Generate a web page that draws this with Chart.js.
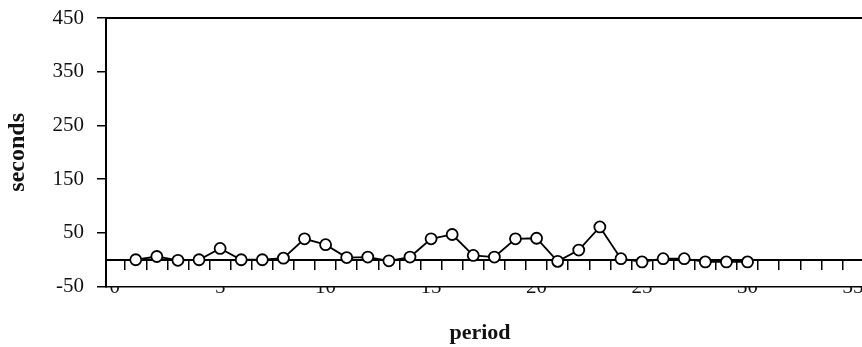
<!DOCTYPE html>
<html><head><meta charset="utf-8">
<script src="https://cdn.jsdelivr.net/npm/chart.js@4.4.0/dist/chart.umd.min.js"></script>
<style>
html,body{margin:0;padding:0;background:#fff;overflow:hidden;width:862px;height:347px;}
#wrap{position:relative;width:920px;height:347px;}
canvas{display:block;}
</style></head><body>
<div id="wrap"><canvas id="c" width="920" height="347"></canvas></div>
<script>
const periods = [1,2,3,4,5,6,7,8,9,10,11,12,13,14,15,16,17,18,19,20,21,22,23,24,25,26,27,28,29,30];
const seconds = [0,6,-1,0,21,0,0,3,39,28,4,5,-2,5,39,47,8,5,39,40,-3,18,61,2,-4,2,2,-4,-4,-4];
const yTicks = [-50,50,150,250,350,450];
const xLabelTicks = [0,5,10,15,20,25,30,35];
const xMinorTicks = [0.5,1.5,2.5,3.5,4.5,5.5,6.5,7.5,8.5,9.5,10.5,11.5,12.5,13.5,14.5,15.5,16.5,17.5,18.5,19.5,20.5,21.5,22.5,23.5,24.5,25.5,26.5,27.5,28.5,29.5,30.5,31.5,32.5,33.5,34.5,35.5,36.5,37.5];
const xTitle = 'period';
const yTitle = 'seconds';

const X_MIN = -0.41, X_MAX = 37.83;
const SERIF = "'Liberation Serif', 'DejaVu Serif', serif";
Chart.defaults.font.family = SERIF;

const setTicks = arr => s => { s.ticks = arr.map(v => ({value: v})); };

new Chart(document.getElementById('c'), {
  type: 'line',
  data: {
    datasets: [{
      data: periods.map((p, i) => ({x: p, y: seconds[i]})),
      borderColor: '#000',
      borderWidth: 1.8,
      pointRadius: 5.5,
      pointBorderWidth: 1.8,
      pointBackgroundColor: '#fff',
      pointBorderColor: '#000',
      tension: 0,
      fill: false,
      xAxisID: 'x',
      yAxisID: 'y',
      clip: false
    }]
  },
  options: {
    responsive: false,
    animation: false,
    devicePixelRatio: 1,
    layout: {padding: {left: 40, top: 18, right: 0, bottom: 0}},
    plugins: {
      legend: {display: false},
      tooltip: {enabled: false},
      title: {
        display: true, position: 'bottom', text: xTitle, color: '#111',
        font: {family: SERIF, size: 22, weight: 'bold'},
        padding: {top: 14, bottom: 0}
      }
    },
    scales: {
      x: {
        type: 'linear', axis: 'x', position: 'bottom', min: X_MIN, max: X_MAX,
        afterBuildTicks: setTicks(xLabelTicks),
        afterFit: s => { s.height = 20; },
        ticks: {font: {family: SERIF, size: 21}, color: '#111', padding: -12, maxRotation: 0, autoSkip: false},
        grid: {drawOnChartArea: false, drawTicks: false},
        border: {display: true, color: '#000', width: 1.5}
      },
      xZero: {
        type: 'linear', axis: 'x', position: {y: 0}, min: X_MIN, max: X_MAX,
        afterBuildTicks: setTicks(xMinorTicks),
        ticks: {display: false},
        grid: {drawOnChartArea: false, drawTicks: true, tickLength: 9, color: '#000', lineWidth: 1.5},
        border: {display: true, color: '#000', width: 2}
      },
      xTop: {
        type: 'linear', axis: 'x', position: 'top', min: X_MIN, max: X_MAX,
        afterFit: s => { s.height = 0; },
        ticks: {display: false},
        grid: {drawOnChartArea: false, drawTicks: false},
        border: {display: true, color: '#000', width: 2}
      },
      y: {
        type: 'linear', position: 'left', min: -50, max: 450,
        afterBuildTicks: setTicks(yTicks),
        afterFit: s => { s.width = 66; },
        ticks: {font: {family: SERIF, size: 21}, color: '#111', padding: 4},
        grid: {drawOnChartArea: false, tickLength: 18, tickBorderDash: [0, 9, 9, 0], color: '#000', lineWidth: 1.5},
        border: {display: true, color: '#000', width: 2},
        title: {display: true, text: yTitle, color: '#111', font: {family: SERIF, size: 24, weight: 'bold'}, padding: {top: -36.4, bottom: 0}}
      }
    }
  }
});
</script>
</body></html>
